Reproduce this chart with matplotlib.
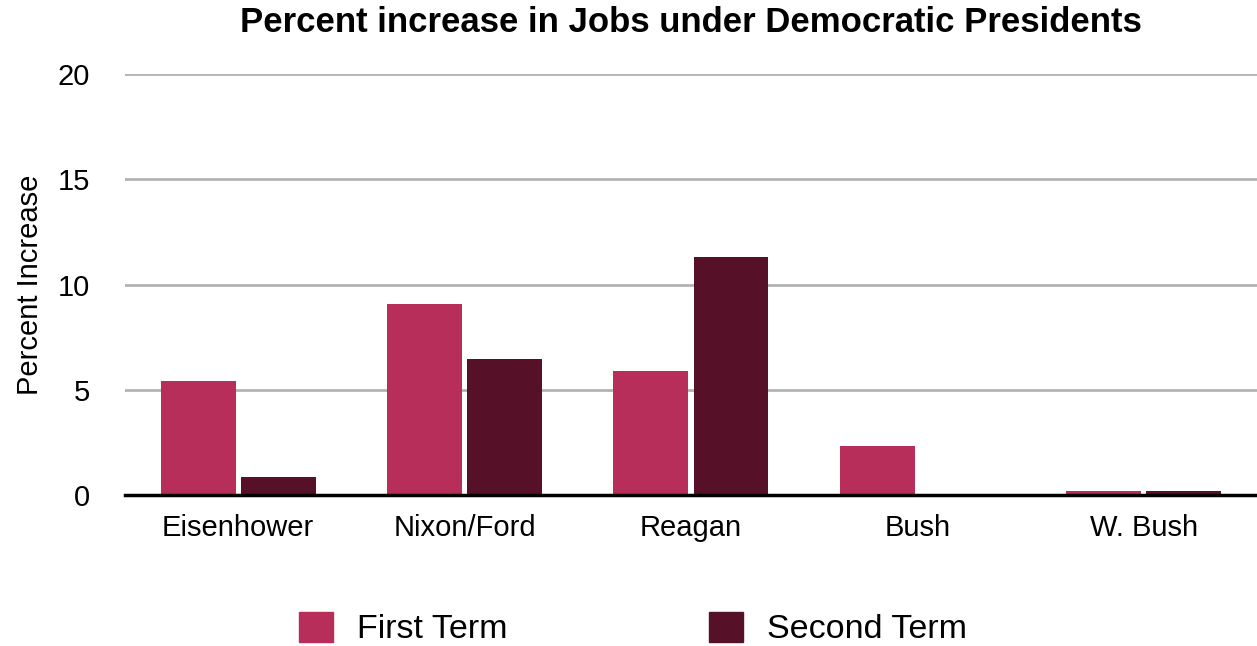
import matplotlib.pyplot as plt
import numpy as np
from matplotlib.patches import Patch

plt.rcParams['font.family'] = ['Liberation Sans', 'DejaVu Sans']

presidents = ["Eisenhower", "Nixon/Ford", "Reagan", "Bush", "W. Bush"]
first_term = [5.45, 9.1, 5.9, 2.37, 0.2]
second_term = [0.87, 6.5, 11.3, 0.0, 0.2]
y_ticks = [0, 5, 10, 15, 20]

first_color = "#B82E5B"
second_color = "#561128"

fig = plt.figure(figsize=(12.57, 6.46), dpi=100)
ax = fig.add_axes([0.0994, 0.233, 0.9006, 0.6524])

x = np.arange(len(presidents))
w = 0.331
off = 0.1767
ax.bar(x - off, first_term, width=w, color=first_color, zorder=3)
ax.bar(x + off, second_term, width=w, color=second_color, zorder=3)

ax.set_xlim(-0.5, len(presidents) - 0.5)
ax.set_ylim(0, 20)
ax.set_yticks(y_ticks)
ax.set_xticks(x)
ax.set_xticklabels(presidents)

for s in ["top", "right", "left"]:
    ax.spines[s].set_visible(False)
ax.spines["bottom"].set_color("black")
ax.spines["bottom"].set_linewidth(2.5)
ax.spines["bottom"].set_zorder(4)

ax.yaxis.grid(True, color="#B3B3B3", linewidth=2)
ax.set_axisbelow(True)
ax.tick_params(axis="both", length=0, labelsize=21)
ax.tick_params(axis="y", pad=25)
ax.tick_params(axis="x", pad=13)

ax.set_ylabel("Percent Increase", fontsize=21)
ax.yaxis.set_label_coords(-0.0718, 0.5)

fig.text(0.5497, 1 - 32 / 646, "Percent increase in Jobs under Democratic Presidents",
         fontsize=25, fontweight="bold", ha="center", va="baseline")

handles = [Patch(color=first_color, label="First Term"),
           Patch(color=second_color, label="Second Term")]
fig.legend(handles=handles, loc="center", bbox_to_anchor=(0.5036, 0.027),
           ncol=2, frameon=False, fontsize=24.5, handlelength=1,
           handleheight=1, handletextpad=0.72, columnspacing=5.9)

fig.savefig("out.png", dpi=100)
